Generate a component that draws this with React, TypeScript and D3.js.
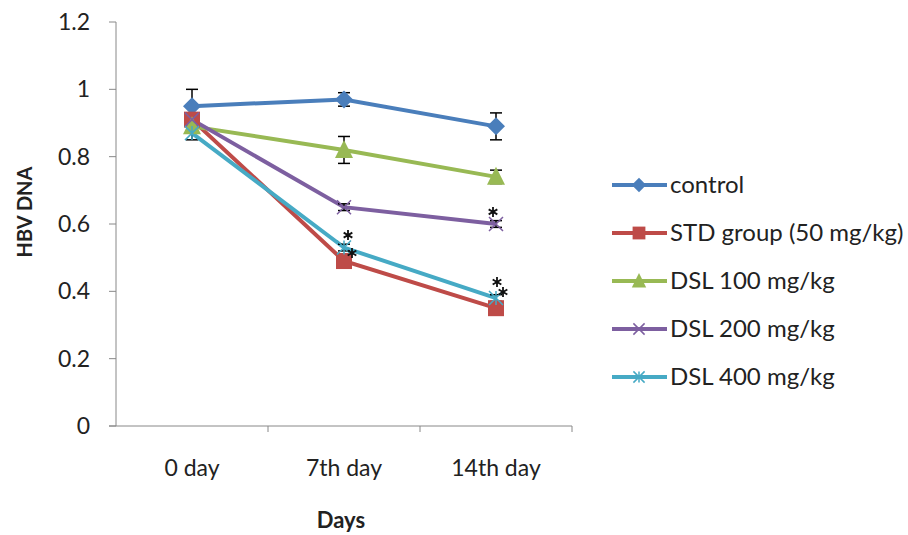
import React from "react";
import * as d3 from "d3";

const categories = ["0 day", "7th day", "14th day"];
const seriesNames = ["control", "STD group (50 mg/kg)", "DSL 100 mg/kg", "DSL 200 mg/kg", "DSL 400 mg/kg"];
const seriesColors = ["#4a7ebb", "#be4b48", "#98b954", "#7d5fa0", "#46aac5"];
const controlVals = [0.95, 0.97, 0.89];
const stdVals = [0.91, 0.49, 0.35];
const dsl100Vals = [0.89, 0.82, 0.74];
const dsl200Vals = [0.91, 0.65, 0.60];
const dsl400Vals = [0.87, 0.53, 0.38];
const controlErr = [0.05, 0.02, 0.04];
const stdErr = [0.02, 0.02, 0.01];
const dsl100Err = [0.01, 0.04, 0.02];
const dsl200Err = [0.01, 0.01, 0.01];
const dsl400Err = [0.02, 0.01, 0.01];
const yTicks = [0, 0.2, 0.4, 0.6, 0.8, 1, 1.2];
// significance asterisks: [categoryIndex, value]
const asterisks: [number, number][] = [[1, 0.567], [1, 0.514], [2, 0.636], [2, 0.428], [2, 0.398]];
const asteriskDx = [4, 8, -3, 1, 7];

const series = [controlVals, stdVals, dsl100Vals, dsl200Vals, dsl400Vals];
const errs = [controlErr, stdErr, dsl100Err, dsl200Err, dsl400Err];
const markers = ["diamond", "square", "triangle", "x", "star"];

function Marker({ type, x, y, color, s = 1 }: { type: string; x: number; y: number; color: string; s?: number }) {
  if (type === "diamond") {
    const r = 9 * s;
    return <path d={`M${x},${y - r}L${x + r},${y}L${x},${y + r}L${x - r},${y}Z`} fill={color} />;
  }
  if (type === "square") {
    const r = 8 * s;
    return <rect x={x - r} y={y - r} width={2 * r} height={2 * r} fill={color} />;
  }
  if (type === "triangle") {
    return <path d={`M${x},${y - 10 * s}L${x + 9 * s},${y + 8 * s}L${x - 9 * s},${y + 8 * s}Z`} fill={color} />;
  }
  const r = 7 * s;
  if (type === "x") {
    return <path d={`M${x - r},${y - r}L${x + r},${y + r}M${x - r},${y + r}L${x + r},${y - r}`} stroke={color} strokeWidth={1.5} />;
  }
  return (
    <path
      d={`M${x - r},${y - r}L${x + r},${y + r}M${x - r},${y + r}L${x + r},${y - r}M${x},${y - r}L${x},${y + r}`}
      stroke={color}
      strokeWidth={1.5}
    />
  );
}

function Asterisk({ x, y }: { x: number; y: number }) {
  const r = 5;
  const arms = [0, 60, 120].map((a) => {
    const t = ((a + 90) * Math.PI) / 180;
    const dx = r * Math.cos(t), dy = r * Math.sin(t);
    return `M${x - dx},${y - dy}L${x + dx},${y + dy}`;
  });
  return <path d={arms.join("")} stroke="#111" strokeWidth={1.8} />;
}

export default function App() {
  const W = 908, H = 535;
  const x0 = 116, x1 = 572, yTop = 22, yBot = 426;
  const xBand = d3.scaleBand().domain(categories).range([x0, x1]);
  const xc = (i: number) => (xBand(categories[i]) as number) + xBand.bandwidth() / 2;
  const y = d3.scaleLinear().domain([0, 1.2]).range([yBot, yTop]);
  const line = d3.line<number>().x((_, i) => xc(i)).y((d) => y(d));
  const font = "Lato, 'Open Sans', sans-serif";
  const fs = 23;

  return (
    <div>
      <style>{"html,body{margin:0;padding:0;overflow:hidden}"}</style>
      <svg width={W} height={H} style={{ display: "block", background: "#fff" }}>
        {/* y axis */}
        <line x1={x0} x2={x0} y1={yTop} y2={yBot} stroke="#888" strokeWidth={1} />
        {yTicks.map((t) => (
          <g key={t}>
            <line x1={x0 - 7} x2={x0} y1={y(t)} y2={y(t)} stroke="#888" />
            <text x={x0 - 26} y={y(t) + 8} textAnchor="end" fontFamily={font} fontSize={fs} fill="#222">
              {String(t)}
            </text>
          </g>
        ))}
        {/* x axis */}
        <line x1={x0 - 7} x2={x1} y1={yBot} y2={yBot} stroke="#888" />
        {categories.map((c, i) => (
          <g key={c}>
            <line x1={(xBand(c) as number) + xBand.bandwidth()} x2={(xBand(c) as number) + xBand.bandwidth()} y1={yBot} y2={yBot + 6} stroke="#888" />
            <text x={xc(i)} y={476} textAnchor="middle" fontFamily={font} fontSize={fs} fill="#222">
              {c}
            </text>
          </g>
        ))}
        <text x={341} y={528} textAnchor="middle" fontFamily={font} fontSize={22} fontWeight="bold" fill="#222">
          Days
        </text>
        <text transform={`translate(32,212) rotate(-90)`} textAnchor="middle" fontFamily={font} fontSize={20} fontWeight="bold" fill="#222">
          HBV DNA
        </text>
        {/* lines */}
        {series.map((s, k) => (
          <path key={k} d={line(s) as string} fill="none" stroke={seriesColors[k]} strokeWidth={4} />
        ))}
        {/* error bars */}
        {series.map((s, k) =>
          s.map((v, i) => (
            <g key={`${k}-${i}`} stroke="#000" strokeWidth={1.5}>
              <line x1={xc(i)} x2={xc(i)} y1={y(v + errs[k][i])} y2={y(v - errs[k][i])} />
              <line x1={xc(i) - 6} x2={xc(i) + 6} y1={y(v + errs[k][i])} y2={y(v + errs[k][i])} />
              <line x1={xc(i) - 6} x2={xc(i) + 6} y1={y(v - errs[k][i])} y2={y(v - errs[k][i])} />
            </g>
          ))
        )}
        {/* markers */}
        {series.map((s, k) =>
          s.map((v, i) => <Marker key={`m${k}-${i}`} type={markers[k]} x={xc(i)} y={y(v)} color={seriesColors[k]} />)
        )}
        {/* asterisks */}
        {asterisks.map(([ci, v], j) => (
          <Asterisk key={j} x={xc(ci) + asteriskDx[j]} y={y(v)} />
        ))}
        {/* legend */}
        {seriesNames.map((n, k) => {
          const ly = 185 + k * 48;
          return (
            <g key={n}>
              <line x1={612} x2={667} y1={ly} y2={ly} stroke={seriesColors[k]} strokeWidth={4} />
              <Marker type={markers[k]} x={639} y={ly} color={seriesColors[k]} s={0.8} />
              <text x={670} y={ly + 8} fontFamily={font} fontSize={24} fill="#222">
                {n}
              </text>
            </g>
          );
        })}
      </svg>
    </div>
  );
}
